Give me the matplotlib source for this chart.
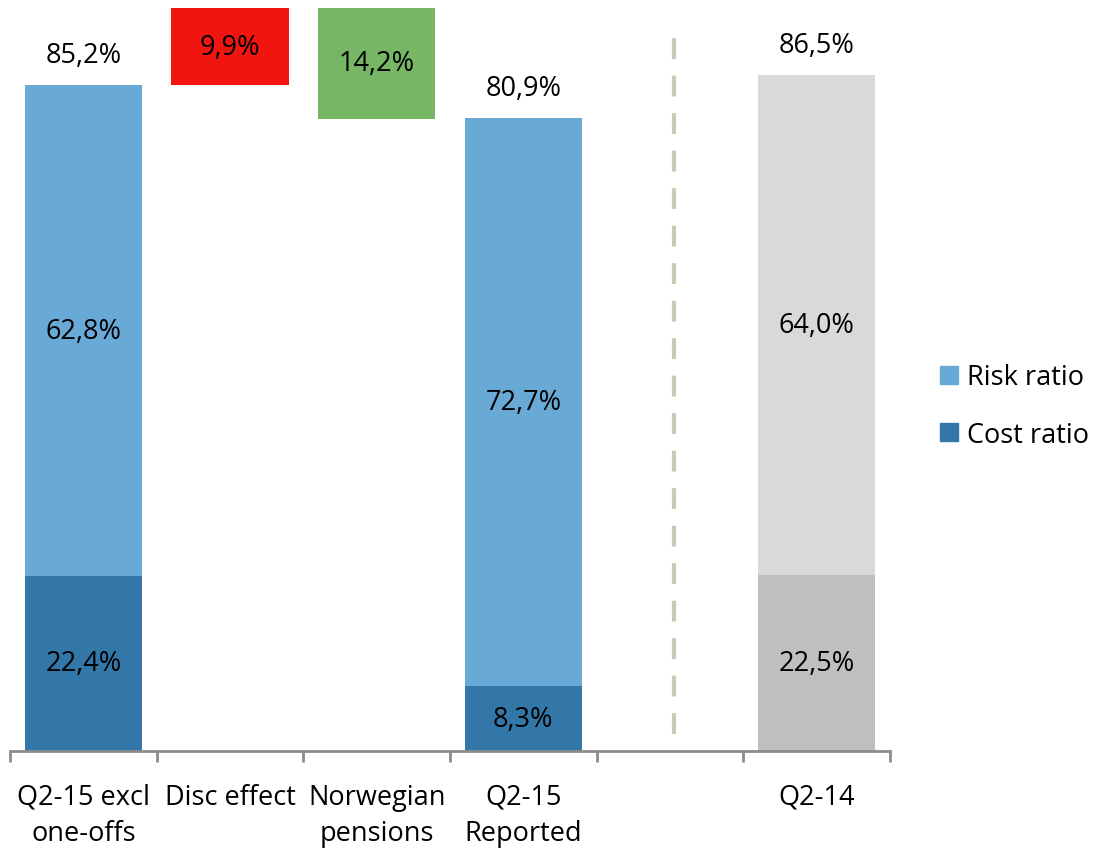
import matplotlib
matplotlib.use("Agg")
import matplotlib.pyplot as plt
from matplotlib.patches import Patch

plt.rcParams['font.family'] = ['Open Sans', 'DejaVu Sans']

categories = ["Q2-15 excl\none-offs", "Disc effect", "Norwegian\npensions", "Q2-15\nReported", "", "Q2-14"]
cost_ratio = [22.4, None, None, 8.3, None, 22.5]
risk_ratio = [62.8, None, None, 72.7, None, 64.0]
totals = [85.2, None, None, 80.9, None, 86.5]
disc_effect = 9.9
norwegian_pensions = 14.2

c_risk = "#69a9d6"
c_cost = "#3277a8"
c_red = "#f0150e"
c_green = "#76b665"
c_gray_l = "#d9d9d9"
c_gray_d = "#bfbfbf"

fig = plt.figure(figsize=(10.93, 8.53), dpi=100)
ax = fig.add_axes([10/1093, 1-752/853, 880/1093, (752-9)/853])

w = 0.8
fs = 19.5
for i in [0, 3, 5]:
    cc = c_gray_d if i == 5 else c_cost
    rc = c_gray_l if i == 5 else c_risk
    ax.bar(i, cost_ratio[i], width=w, color=cc)
    ax.bar(i, risk_ratio[i], width=w, bottom=cost_ratio[i], color=rc)
    ax.text(i, cost_ratio[i]/2, f"{cost_ratio[i]:.1f}%".replace('.', ','), ha='center', va='center', fontsize=fs)
    ax.text(i, cost_ratio[i] + risk_ratio[i]/2, f"{risk_ratio[i]:.1f}%".replace('.', ','), ha='center', va='center', fontsize=fs)
    top = cost_ratio[i] + risk_ratio[i]
    ax.annotate(f"{totals[i]:.1f}%".replace('.', ','), (i, top), xytext=(0, 22), textcoords='offset points',
                ha='center', va='center', fontsize=fs)

start = totals[0]
ax.bar(1, disc_effect, width=w, bottom=start, color=c_red)
ax.text(1, start + disc_effect/2, f"{disc_effect:.1f}%".replace('.', ','), ha='center', va='center', fontsize=fs)
top2 = start + disc_effect
ax.bar(2, norwegian_pensions, width=w, bottom=top2 - norwegian_pensions, color=c_green)
ax.text(2, top2 - norwegian_pensions/2, f"{norwegian_pensions:.1f}%".replace('.', ','), ha='center', va='center', fontsize=fs)

ax.axvline(4.03, ymin=0.023, ymax=0.978, color="#c9c9b6", lw=3, dashes=(5, 4))

ax.set_xlim(-0.5, 5.5)
ax.set_ylim(0, 95.1)
ax.set_yticks([])
for s in ['top', 'right', 'left']:
    ax.spines[s].set_visible(False)
ax.spines['bottom'].set_color('#8c8c8c')
ax.spines['bottom'].set_linewidth(2)
ax.set_xticks([i - 0.5 for i in range(7)])
ax.set_xticklabels([])
ax.set_xticks(range(6), minor=True)
ax.set_xticklabels(categories, minor=True, fontsize=fs, linespacing=1.4)
ax.tick_params(axis='x', which='major', length=8, width=2, color='#8c8c8c', direction='out')
ax.tick_params(axis='x', which='minor', length=0, pad=23)

handles = [Patch(color=c_risk, label="Risk ratio"), Patch(color=c_cost, label="Cost ratio")]
fig.legend(handles=handles, loc='center left', bbox_to_anchor=(916/1093, 1-407/853), frameon=False,
           fontsize=fs, handlelength=0.65, handleheight=0.65, handletextpad=0.35, labelspacing=1.1)

fig.savefig("out.png", dpi=100)
